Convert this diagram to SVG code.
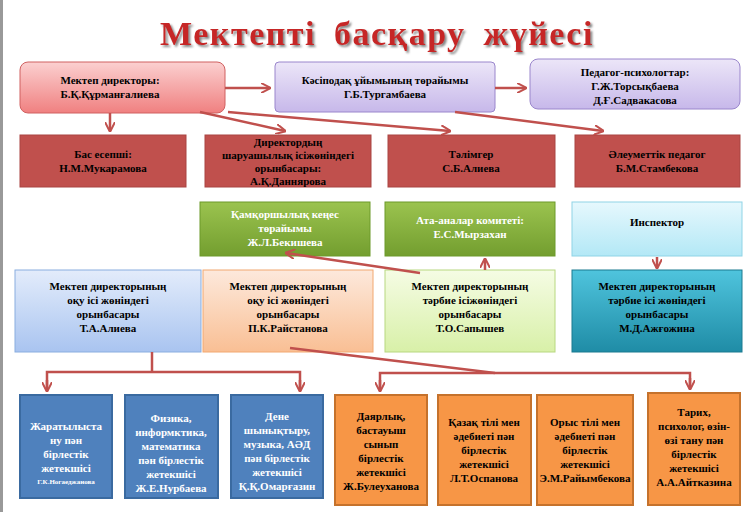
<svg xmlns="http://www.w3.org/2000/svg" width="750" height="512" viewBox="0 0 750 512">
<defs>
<filter id="sh" x="-5%" y="-20%" width="110%" height="150%"><feDropShadow dx="2" dy="2" stdDeviation="0.8" flood-color="#666" flood-opacity="0.8"/></filter>
<linearGradient id="gPink" x1="0" y1="0" x2="0" y2="1"><stop offset="0" stop-color="#fbd0d0"/><stop offset="1" stop-color="#f08080"/></linearGradient>
<linearGradient id="gLav" x1="0" y1="0" x2="0" y2="1"><stop offset="0" stop-color="#ece6f8"/><stop offset="1" stop-color="#c7b8ea"/></linearGradient>
<linearGradient id="gGreen" x1="0" y1="0" x2="0" y2="1"><stop offset="0" stop-color="#9bc34f"/><stop offset="1" stop-color="#739e2f"/></linearGradient>
<linearGradient id="gCyan" x1="0" y1="0" x2="0" y2="1"><stop offset="0" stop-color="#e6f8fd"/><stop offset="1" stop-color="#b3e8f6"/></linearGradient>
<linearGradient id="gBlueL" x1="0" y1="0" x2="0" y2="1"><stop offset="0" stop-color="#e3ecfb"/><stop offset="1" stop-color="#a9c4f0"/></linearGradient>
<linearGradient id="gOrL" x1="0" y1="0" x2="0" y2="1"><stop offset="0" stop-color="#fde9dc"/><stop offset="1" stop-color="#f9bf94"/></linearGradient>
<linearGradient id="gGrL" x1="0" y1="0" x2="0" y2="1"><stop offset="0" stop-color="#f5fce4"/><stop offset="1" stop-color="#d8f0a8"/></linearGradient>
<linearGradient id="gTeal" x1="0" y1="0" x2="0" y2="1"><stop offset="0" stop-color="#4fc4dd"/><stop offset="1" stop-color="#1f8ca6"/></linearGradient>
<marker id="ar" viewBox="0 0 10 10" refX="9" refY="5" markerWidth="4" markerHeight="4" orient="auto"><path d="M0,0 L10,5 L0,10" fill="none" stroke="#c0504d" stroke-width="2"/></marker>
</defs>
<style>
text{font-family:"Liberation Serif","Times New Roman",serif;font-weight:bold;font-size:11px;text-anchor:middle;fill:#000}
.w{fill:#fff}
.red{fill:#c0504d;stroke:#a94442}
.blue{fill:#4f81bd;stroke:#3a6aa0;stroke-width:2}
.or{fill:#f79646;stroke:#c5722c;stroke-width:2}
.c{stroke:#c0504d;stroke-width:2.5;fill:none}
</style>
<rect width="750" height="512" fill="#fff"/>
<rect x="0" y="0" width="3" height="512" fill="#999"/>
<text x="377" y="45" filter="url(#sh)" style="font-size:34px;fill:#c62828;letter-spacing:1.5px;word-spacing:8px">Мектепті басқару жүйесі</text>

<g id="n1"><rect x="20" y="62" width="205" height="51" rx="8" fill="url(#gPink)" stroke="#d06060"/><text x="110" y="84">Мектеп директоры:</text><text x="110" y="98">Б.Қ.Құрманғалиева</text></g>
<g id="n2"><rect x="275" y="62" width="220" height="50" rx="4" fill="url(#gLav)" stroke="#9a86cc"/><text x="385" y="84">Кәсіподақ ұйымының төрайымы</text><text x="385" y="98">Г.Б.Тургамбаева</text></g>
<g id="n3"><rect x="530" y="59" width="210" height="50" rx="8" fill="url(#gLav)" stroke="#9a86cc"/><text x="635" y="76">Педагог-психологтар:</text><text x="635" y="90">Г.Ж.Торсықбаева</text><text x="635" y="104">Д.Ғ.Садвакасова</text></g>

<g id="r1"><rect class="red" x="20" y="135" width="166" height="52"/><text x="103" y="158">Бас есепші:</text><text x="103" y="172">Н.М.Мукарамова</text></g>
<g id="r2"><rect class="red" x="205" y="135" width="166" height="52"/><text x="288" y="146">Директордың</text><text x="288" y="159">шаруашылық ісіжөніндегі</text><text x="288" y="172">орынбасары:</text><text x="288" y="185">А.Қ.Даннярова</text></g>
<g id="r3"><rect class="red" x="388" y="135" width="167" height="52"/><text x="471" y="158">Тәлімгер</text><text x="471" y="172">С.Б.Алиева</text></g>
<g id="r4"><rect class="red" x="575" y="135" width="165" height="52"/><text x="657" y="158">Әлеуметтік педагог</text><text x="657" y="172">Б.М.Стамбекова</text></g>

<g id="g1"><rect x="200" y="202" width="170" height="54" fill="url(#gGreen)" stroke="#6d9a2a"/><text class="w" x="285" y="218">Қамқоршылық кеңес</text><text class="w" x="285" y="232">төрайымы</text><text class="w" x="285" y="246">Ж.Л.Бекишева</text></g>
<g id="g2"><rect x="385" y="202" width="170" height="54" fill="url(#gGreen)" stroke="#6d9a2a"/><text class="w" x="470" y="224">Ата-аналар комитеті:</text><text class="w" x="470" y="238">Е.С.Мырзахан</text></g>
<g id="g3"><rect x="572" y="202" width="170" height="54" fill="url(#gCyan)" stroke="#8fd4e6"/><text x="657" y="226">Инспектор</text></g>

<g id="d1"><rect x="15" y="270" width="186" height="82" fill="url(#gBlueL)" stroke="#8aaee0"/><text x="108" y="290">Мектеп директорының</text><text x="108" y="304">оқу ісі жөніндегі</text><text x="108" y="318">орынбасары</text><text x="108" y="332">Т.А.Алиева</text></g>
<g id="d2"><rect x="203" y="270" width="170" height="82" fill="url(#gOrL)" stroke="#f2a870"/><text x="288" y="290">Мектеп директорының</text><text x="288" y="304">оқу ісі жөніндегі</text><text x="288" y="318">орынбасары</text><text x="288" y="332">П.К.Райстанова</text></g>
<g id="d3"><rect x="385" y="270" width="170" height="82" fill="url(#gGrL)" stroke="#b8d880"/><text x="470" y="290">Мектеп директорының</text><text x="470" y="304">тәрбие ісіжөніндегі</text><text x="470" y="318">орынбасары</text><text x="470" y="332">Т.О.Сапышев</text></g>
<g id="d4"><rect x="572" y="270" width="170" height="82" fill="url(#gTeal)" stroke="#1a7a90"/><text x="657" y="290">Мектеп директорының</text><text x="657" y="304">тәрбие ісі жөніндегі</text><text x="657" y="318">орынбасары</text><text x="657" y="332">М.Д.Ажғожина</text></g>

<g id="b1"><rect class="blue" x="20" y="395" width="92" height="103"/><text class="w" x="66" y="430">Жаратылыста</text><text class="w" x="66" y="444">ну пән</text><text class="w" x="66" y="458">бірлестік</text><text class="w" x="66" y="472">жетекшісі</text><text class="w" x="66" y="484" style="font-size:7px">Г.К.Ногаеджанова</text></g>
<g id="b2"><rect class="blue" x="125" y="395" width="93" height="103"/><text class="w" x="171" y="422">Физика,</text><text class="w" x="171" y="436">информктика,</text><text class="w" x="171" y="450">математика</text><text class="w" x="171" y="464">пән бірлестік</text><text class="w" x="171" y="478">жетекшісі</text><text class="w" x="171" y="492">Ж.Е.Нурбаева</text></g>
<g id="b3"><rect class="blue" x="231" y="395" width="92" height="103"/><text class="w" x="277" y="420">Дене</text><text class="w" x="277" y="434">шынықтыру,</text><text class="w" x="277" y="448">музыка, АӘД</text><text class="w" x="277" y="462">пән бірлестік</text><text class="w" x="277" y="476">жетекшісі</text><text class="w" x="277" y="490">Қ.Қ.Омарғазин</text></g>
<g id="o1"><rect class="or" x="335" y="395" width="92" height="110"/><text x="381" y="420">Даярлық,</text><text x="381" y="434">бастауыш</text><text x="381" y="448">сынып</text><text x="381" y="462">бірлестік</text><text x="381" y="476">жетекшісі</text><text x="381" y="490">Ж.Булеуханова</text></g>
<g id="o2"><rect class="or" x="438" y="395" width="93" height="110"/><text x="484" y="426">Қазақ тілі мен</text><text x="484" y="440">әдебиеті пән</text><text x="484" y="454">бірлестік</text><text x="484" y="468">жетекшісі</text><text x="484" y="482">Л.Т.Оспанова</text></g>
<g id="o3"><rect class="or" x="537" y="395" width="96" height="110"/><text x="585" y="426">Орыс  тілі мен</text><text x="585" y="440">әдебиеті пән</text><text x="585" y="454">бірлестік</text><text x="585" y="468">жетекшісі</text><text x="585" y="482">Э.М.Райымбекова</text></g>
<g id="o4"><rect class="or" x="648" y="393" width="92" height="112"/><text x="694" y="416">Тарих,</text><text x="694" y="430">психолог, өзін-</text><text x="694" y="444">өзі тану пән</text><text x="694" y="458">бірлестік</text><text x="694" y="472">жетекшісі</text><text x="694" y="486">А.А.Айтказина</text></g>

<g id="connectors">
<line class="c" x1="225" y1="88" x2="270" y2="88" marker-end="url(#ar)"/>
<line class="c" x1="495" y1="88" x2="526" y2="88" marker-end="url(#ar)"/>
<line class="c" x1="110" y1="113" x2="110" y2="131" marker-end="url(#ar)"/>
<line class="c" x1="200" y1="112" x2="285" y2="131" marker-end="url(#ar)"/>
<line class="c" x1="228" y1="112" x2="450" y2="131" marker-end="url(#ar)"/>
<line class="c" x1="455" y1="112" x2="603" y2="131" marker-end="url(#ar)"/>
<line class="c" x1="420" y1="273" x2="286" y2="253" marker-end="url(#ar)"/>
<line class="c" x1="485" y1="270" x2="485" y2="259" marker-end="url(#ar)"/>
<line class="c" x1="657" y1="257" x2="657" y2="268" marker-end="url(#ar)"/>
<polyline class="c" points="152,352 152,372"/>
<polyline class="c" points="47,390 47,372 300,372 300,390"/>
<line class="c" x1="47" y1="380" x2="47" y2="391" marker-end="url(#ar)"/>
<line class="c" x1="300" y1="380" x2="300" y2="391" marker-end="url(#ar)"/>
<line class="c" x1="290" y1="348" x2="495" y2="373"/>
<polyline class="c" points="380,390 380,373 690,373 690,388"/>
<line class="c" x1="380" y1="380" x2="380" y2="391" marker-end="url(#ar)"/>
<line class="c" x1="690" y1="378" x2="690" y2="389" marker-end="url(#ar)"/>
</g>
</svg>
